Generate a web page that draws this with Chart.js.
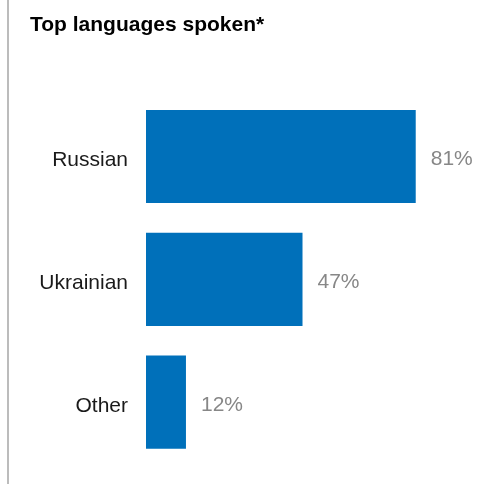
<!DOCTYPE html>
<html>
<head>
<meta charset="utf-8">
<script src="https://cdn.jsdelivr.net/npm/chart.js@4"></script>
<style>
  html, body { margin: 0; padding: 0; background: #fff; }
  #wrap { position: relative; width: 491px; height: 484px; }
</style>
</head>
<body>
<div id="wrap"><canvas id="c" width="491" height="484"></canvas></div>
<script>
const titleText = "Top languages spoken*";
const categories = ["Russian", "Ukrainian", "Other"];
const shares = [81, 47, 12];
const valueLabels = ["81%", "47%", "12%"];

const FONT = "'Liberation Sans', Arial, sans-serif";

const decor = {
  id: 'decor',
  beforeDraw(chart) {
    const ctx = chart.ctx;
    ctx.save();
    ctx.strokeStyle = '#a6a6a6';
    ctx.lineWidth = 1.5;
    ctx.beginPath();
    ctx.moveTo(8, 0);
    ctx.lineTo(8, chart.height);
    ctx.stroke();
    ctx.restore();
  },
  afterDatasetsDraw(chart) {
    const ctx = chart.ctx;
    const meta = chart.getDatasetMeta(0);
    ctx.save();
    ctx.fillStyle = '#878787';
    ctx.font = "21px " + FONT;
    ctx.textAlign = 'left';
    ctx.textBaseline = 'middle';
    meta.data.forEach((bar, i) => {
      ctx.fillText(valueLabels[i], bar.x + 15, bar.y + 3);
    });
    ctx.restore();
  }
};

new Chart(document.getElementById('c'), {
  type: 'bar',
  data: {
    labels: categories,
    datasets: [{
      data: shares,
      backgroundColor: '#0070BA',
      borderWidth: 0,
      categoryPercentage: 1,
      barPercentage: 0.758
    }]
  },
  options: {
    indexAxis: 'y',
    responsive: false,
    animation: false,
    devicePixelRatio: 1,
    layout: { padding: { left: 30, right: 12, top: 0, bottom: 20.5 } },
    plugins: {
      legend: { display: false },
      tooltip: { enabled: false },
      title: {
        display: true,
        text: titleText,
        align: 'start',
        color: '#000',
        font: { family: FONT, size: 21, weight: 'bold', lineHeight: 1.2 },
        padding: { top: 13, bottom: 57 }
      }
    },
    scales: {
      x: {
        display: false,
        min: 0,
        max: 100
      },
      y: {
        afterFit(s) { s.width = 116; s.paddingTop = 0; s.paddingBottom = 0; },
        grid: { display: false, drawTicks: false },
        border: { display: false },
        ticks: {
          color: '#1a1a1a',
          padding: 18,
          labelOffset: 4,
          font: { family: FONT, size: 21 }
        }
      }
    }
  },
  plugins: [decor]
});
</script>
</body>
</html>
